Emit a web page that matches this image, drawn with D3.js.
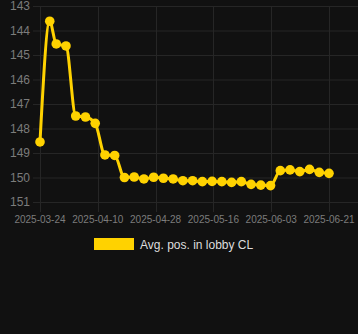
<!DOCTYPE html>
<html>
<head>
<meta charset="utf-8">
<script src="https://cdn.jsdelivr.net/npm/d3@7"></script>
<style>
  html, body { margin: 0; padding: 0; background: #111111; }
  svg { display: block; font-family: "Liberation Sans", Arial, sans-serif; }
</style>
</head>
<body>
<div id="chart"></div>
<script>
const series_name = 'Avg. pos. in lobby CL';

const dates = [
  '2025-03-24', '2025-03-27', '2025-03-29', '2025-04-01', '2025-04-04', '2025-04-07',
  '2025-04-10', '2025-04-13', '2025-04-16', '2025-04-19', '2025-04-22', '2025-04-25',
  '2025-04-28', '2025-05-01', '2025-05-04', '2025-05-07', '2025-05-10', '2025-05-13',
  '2025-05-16', '2025-05-19', '2025-05-22', '2025-05-25', '2025-05-28', '2025-05-31',
  '2025-06-03', '2025-06-06', '2025-06-09', '2025-06-12', '2025-06-15', '2025-06-18',
  '2025-06-21'
];

const positions = [
  148.55, 143.62, 144.55, 144.63, 147.49, 147.53,
  147.79, 149.08, 149.10, 150.00, 149.98, 150.06,
  149.99, 150.03, 150.06, 150.13, 150.13, 150.17,
  150.16, 150.17, 150.20, 150.17, 150.28, 150.31,
  150.33, 149.72, 149.69, 149.76, 149.67, 149.79,
  149.83
];

const x_ticks = [
  '2025-03-24T00:00', '2025-04-10T19:12', '2025-04-28T14:24',
  '2025-05-16T09:36', '2025-06-03T04:48', '2025-06-21T00:00'
];

const y_ticks = [143, 144, 145, 146, 147, 148, 149, 150, 151];

const line_color = '#ffd200';
const grid_color = '#262626';
const label_color = '#7c7c7c';

const width = 358, height = 334;
const parse_day = d3.utcParse('%Y-%m-%d');
const parse_tick = d3.utcParse('%Y-%m-%dT%H:%M');
const fmt = d3.utcFormat('%Y-%m-%d');

const data = dates.map((d, i) => ({ date: parse_day(d), value: positions[i] }));

const x = d3.scaleUtc()
  .domain([parse_day(dates[0]), parse_day(dates[dates.length - 1])])
  .range([40, 329]);

const y = d3.scaleLinear().domain([143, 151]).range([6, 202]);

const svg = d3.select('#chart').append('svg')
  .attr('width', width)
  .attr('height', height);

svg.append('rect').attr('width', width).attr('height', height).attr('fill', '#111111');

// horizontal grid
svg.append('g')
  .selectAll('line')
  .data(y_ticks)
  .enter().append('line')
    .attr('x1', 33).attr('x2', width)
    .attr('y1', (d) => y(d) + 0.5).attr('y2', (d) => y(d) + 0.5)
    .attr('stroke', grid_color)
    .attr('stroke-width', 1);

// vertical grid + tick marks
svg.append('g')
  .selectAll('line')
  .data(x_ticks)
  .enter().append('line')
    .attr('x1', (d) => Math.round(x(parse_tick(d))) + 0.5)
    .attr('x2', (d) => Math.round(x(parse_tick(d))) + 0.5)
    .attr('y1', y(143)).attr('y2', y(151) + 10)
    .attr('stroke', grid_color)
    .attr('stroke-width', 1);

// y labels
svg.append('g')
  .selectAll('text')
  .data(y_ticks)
  .enter().append('text')
    .attr('x', 30)
    .attr('y', (d) => y(d))
    .attr('dy', '0.36em')
    .attr('text-anchor', 'end')
    .attr('fill', label_color)
    .style('font-size', '12px')
    .text((d) => d);

// x labels
svg.append('g')
  .selectAll('text')
  .data(x_ticks)
  .enter().append('text')
    .attr('x', (d) => x(parse_tick(d)))
    .attr('y', 223)
    .attr('text-anchor', 'middle')
    .attr('fill', label_color)
    .style('font-size', '10px')
    .text((d) => fmt(parse_tick(d)));

// line
const line = d3.line()
  .x((d) => x(d.date))
  .y((d) => y(d.value))
  .curve(d3.curveMonotoneX);

svg.append('path')
  .datum(data)
  .attr('d', line)
  .attr('fill', 'none')
  .attr('stroke', line_color)
  .attr('stroke-width', 3);

svg.append('g')
  .selectAll('circle')
  .data(data)
  .enter().append('circle')
    .attr('cx', (d) => x(d.date))
    .attr('cy', (d) => y(d.value))
    .attr('r', 4.8)
    .attr('fill', line_color);

// legend
const legend = svg.append('g');
legend.append('rect')
  .attr('x', 94).attr('y', 238)
  .attr('width', 40).attr('height', 12)
  .attr('fill', line_color);
legend.append('text')
  .attr('x', 140).attr('y', 248.5)
  .attr('fill', '#dddddd')
  .style('font-size', '12px')
  .text(series_name);
</script>
</body>
</html>
